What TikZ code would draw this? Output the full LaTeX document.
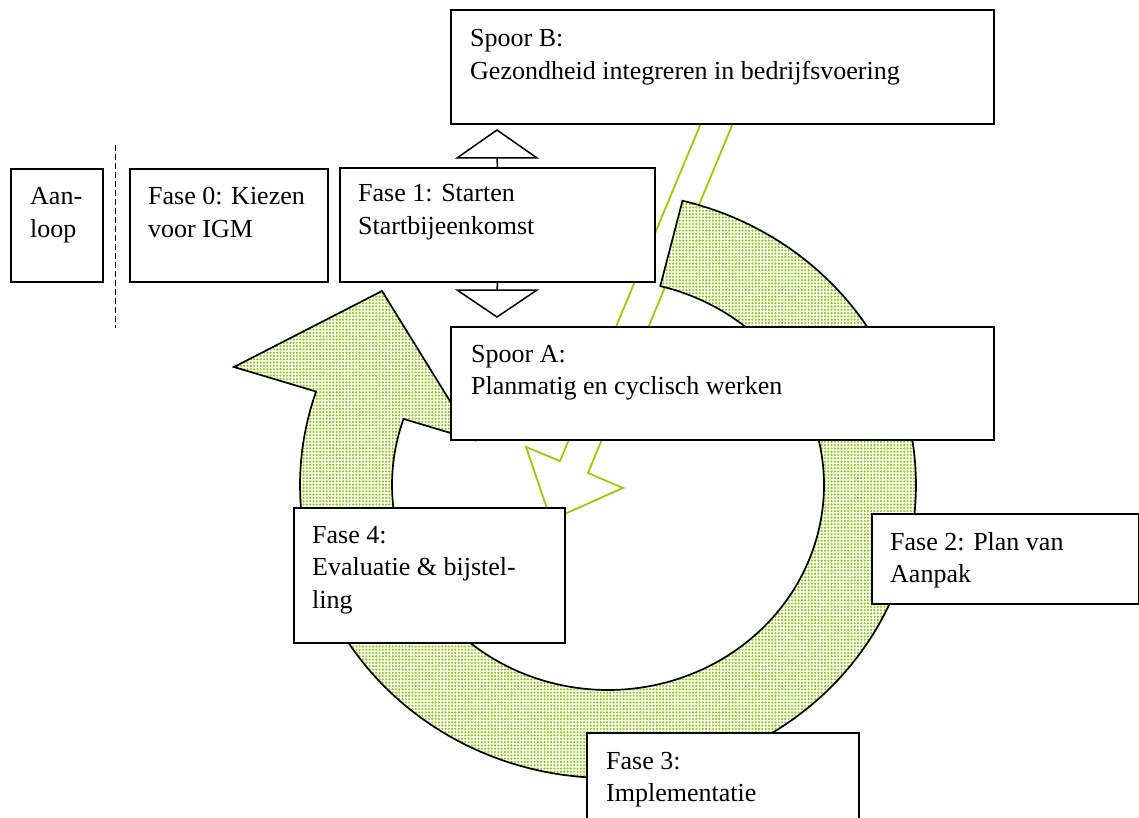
\documentclass[tikz,border=0pt]{standalone}
\usepackage{fontspec}
\setmainfont{Liberation Serif}
\usetikzlibrary{patterns,calc}
\definecolor{leaf}{RGB}{153,204,0}
\definecolor{dotgreen}{RGB}{140,200,20}

% dotted fill used for the cycle arrow
\pgfdeclarepatternformonly{greendots}{\pgfqpoint{-1.4pt}{-1.4pt}}{\pgfqpoint{1.4pt}{1.4pt}}{\pgfqpoint{3.3pt}{3.3pt}}{%
  \pgfpathcircle{\pgfqpoint{0pt}{0pt}}{1.2pt}\pgfusepath{fill}}

\begin{document}
\begin{tikzpicture}[x=1pt,y=-1pt,
  box/.style={draw=black, line width=2pt, fill=white, inner sep=0pt, anchor=north west},
  txt/.style={font=\fontsize{26}{32.5}\selectfont, align=left, anchor=base west, inner sep=0pt},
  tri/.style={draw=black, line width=1.5pt, fill=white, line join=miter},
  stem/.style={draw=black, line width=1.5pt},
  ring/.style={draw=black, line width=1.7pt, preaction={fill=white}, pattern=greendots, pattern color=dotgreen, line join=miter},
  bolt/.style={draw=leaf, line width=1.8pt, line join=miter},
  divider/.style={draw=black, line width=1.8pt, dash pattern=on 6pt off 3pt}]
\useasboundingbox (0,0) rectangle (1139,818);

% green arrow from track B down into the cycle
\draw[bolt] (710.6,100) -- (560,461) -- (526,447) -- (551,520) -- (623,488)
  -- (588,473) -- (742.5,100) -- cycle;

% circular arrow of the cycle (phases 2 to 4)
\path[ring] plot[domain=-76:198.6, samples=160, variable=\t]
    ({608+308*cos(\t)},{485+293*sin(\t)})
  -- (234,367) -- (382,291) -- (474,440)
  -- plot[domain=198.8:-76, samples=160, variable=\t]
    ({608+216*cos(\t)},{485+205*sin(\t)})
  -- cycle;

% boxes
\node[box, minimum width=92pt,  minimum height=113pt] (aan) at (10,168)  {};
\node[box, minimum width=198pt, minimum height=113pt] (f0)  at (129,168) {};
\node[box, minimum width=315pt, minimum height=114pt] (f1)  at (339,167) {};
\node[box, minimum width=543pt, minimum height=114pt] (spb) at (450,9)   {};
\node[box, minimum width=543pt, minimum height=113pt] (spa) at (450,326) {};
\node[box, minimum width=271pt, minimum height=135pt] (f4)  at (293,507) {};
\node[box, minimum width=267pt, minimum height=90pt]  (f2)  at (871,513) {};
\node[box, minimum width=272pt, minimum height=100pt] (f3)  at (586,732) {};

% dashed divider between lead-in and phase 0
\coordinate (d1) at (115.5,145);
\coordinate (d2) at (115.5,328);
\draw[divider] (d1) -- (d2);

% triangles above and below phase 1
\coordinate (tu) at (497,158);
\coordinate (td) at (497,290);
\draw[stem] (f1.north) -- (tu);
\draw[stem] (f1.south) -- (td);
\draw[tri] (457,158) -- (497,130) -- (537,158) -- cycle;
\draw[tri] (457,290) -- (537,290) -- (497,317) -- cycle;

% texts (positioned at the baseline of their last line)
\node[txt] (aant) at (30,237.5)  {Aan-\\loop};
\node[txt] (f0t)  at (148,237.5) {Fase 0: Kiezen\\voor IGM};
\node[txt] (f1t)  at (358,234.5) {Fase 1: Starten\\Startbijeenkomst};
\node[txt] (spbt) at (470,79.5)  {Spoor B:\\Gezondheid integreren in bedrijfsvoering};
\node[txt] (spat) at (471,394.5) {Spoor A:\\Planmatig en cyclisch werken};
\node[txt] (f4t)  at (312,608)   {Fase 4:\\Evaluatie \& bijstel-\\ling};
\node[txt] (f2t)  at (890,582.5) {Fase 2: Plan van\\Aanpak};
\node[txt] (f3t)  at (606,801.5) {Fase 3:\\Implementatie};
\end{tikzpicture}
\end{document}
